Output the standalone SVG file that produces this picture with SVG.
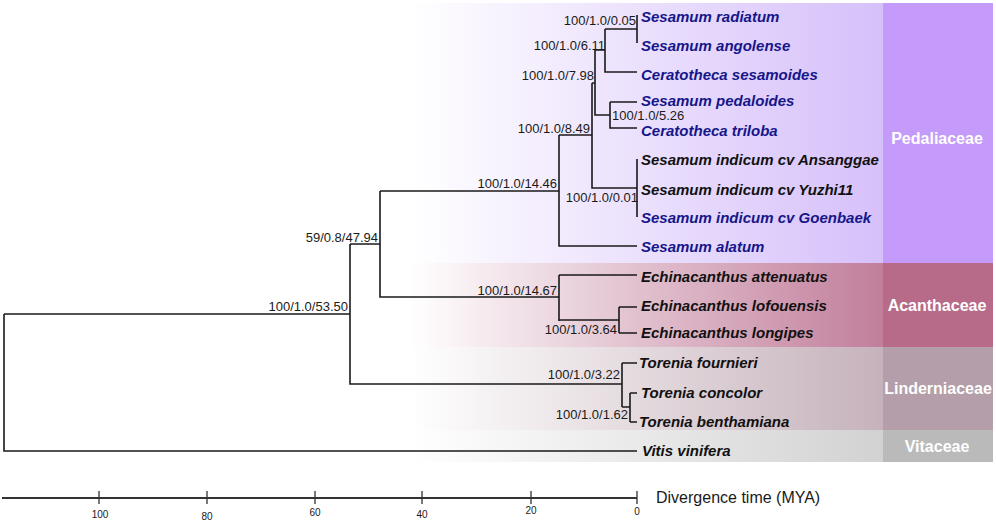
<svg xmlns="http://www.w3.org/2000/svg" width="996" height="524" viewBox="0 0 996 524">
<defs>
<linearGradient id="gP" x1="0" y1="0" x2="1" y2="0"><stop offset="0" stop-color="#ffffff"/><stop offset="1" stop-color="#d6c0fa"/></linearGradient>
<linearGradient id="gA" x1="0" y1="0" x2="1" y2="0"><stop offset="0" stop-color="#ffffff"/><stop offset="1" stop-color="#c27e9b"/></linearGradient>
<linearGradient id="gL" x1="0" y1="0" x2="1" y2="0"><stop offset="0" stop-color="#ffffff"/><stop offset="1" stop-color="#c6b2bb"/></linearGradient>
<linearGradient id="gV" x1="0" y1="0" x2="1" y2="0"><stop offset="0" stop-color="#ffffff"/><stop offset="1" stop-color="#d2d2d2"/></linearGradient>
</defs>
<style>
.br{fill:none;stroke:#1a1a1a;stroke-width:1.6}
.sup{font-family:"Liberation Sans",Arial,sans-serif;font-size:13px;fill:#1a1a1a}
.r{text-anchor:end}
.tx{font-family:"Liberation Sans",Arial,sans-serif;font-size:15px;font-weight:bold;font-style:italic}
.bl{fill:#16168a}
.bk{fill:#111111}
.fam{font-family:"Liberation Sans",Arial,sans-serif;font-size:16px;font-weight:bold;fill:#ffffff;text-anchor:middle}
.ax{font-family:"Liberation Sans",Arial,sans-serif;font-size:10px;fill:#1a1a1a;text-anchor:middle}
</style>
<rect width="996" height="524" fill="#ffffff"/>
<g id="bands">
<rect x="410" y="3" width="473" height="260" fill="url(#gP)"/>
<rect x="410" y="263" width="473" height="84" fill="url(#gA)"/>
<rect x="410" y="347" width="473" height="83" fill="url(#gL)"/>
<rect x="410" y="430" width="473" height="32" fill="url(#gV)"/>
</g>
<g id="family-Pedaliaceae"><rect x="883" y="3" width="110" height="260" fill="#c49bfa"/><text class="fam" x="937" y="144">Pedaliaceae</text></g>
<g id="family-Acanthaceae"><rect x="883" y="263" width="110" height="84" fill="#b86b89"/><text class="fam" x="937" y="311">Acanthaceae</text></g>
<g id="family-Linderniaceae"><rect x="883" y="347" width="110" height="83" fill="#b39ea9"/><text class="fam" x="938" y="394">Linderniaceae</text></g>
<g id="family-Vitaceae"><rect x="883" y="430" width="110" height="32" fill="#bababa"/><text class="fam" x="937" y="452">Vitaceae</text></g>
<g id="connectors">
<path class="br" d="M637,15V43 M605,29H637 M605,29V72H637 M610,102H637 M610,102V128H637 M595,50H605 M595,50V115H610 M592,83H595 M592,83V188H637 M637,159V217 M559,135H592 M559,135V246H637 M380,191H559 M380,191V297H559 M559,275H637 M559,275V321 M559,320H619 M619,307V333 M619,307H637 M619,333H637 M350,244H380 M350,244V384H622 M622,363V407 M622,363H637 M622,407H630 M630,393V422 M630,393H637 M630,422H637 M4,314H350 M4,314V451H637"/>
</g>
<g id="support">
<text class="sup r" x="636" y="25">100/1.0/0.05</text>
<text class="sup r" x="605" y="50">100/1.0/6.11</text>
<text class="sup r" x="594" y="80">100/1.0/7.98</text>
<text class="sup" x="612" y="120">100/1.0/5.26</text>
<text class="sup r" x="590" y="133">100/1.0/8.49</text>
<text class="sup r" x="557" y="188">100/1.0/14.46</text>
<text class="sup r" x="638" y="202">100/1.0/0.01</text>
<text class="sup r" x="378" y="242">59/0.8/47.94</text>
<text class="sup r" x="348" y="311">100/1.0/53.50</text>
<text class="sup r" x="557" y="295">100/1.0/14.67</text>
<text class="sup r" x="617" y="334">100/1.0/3.64</text>
<text class="sup r" x="620" y="379">100/1.0/3.22</text>
<text class="sup r" x="628" y="419">100/1.0/1.62</text>
</g>
<g id="leaf-radiatum"><text class="tx bl" x="641" y="22">Sesamum radiatum</text></g>
<g id="leaf-angolense"><text class="tx bl" x="641" y="51">Sesamum angolense</text></g>
<g id="leaf-sesamoides"><text class="tx bl" x="641" y="80">Ceratotheca sesamoides</text></g>
<g id="leaf-pedaloides"><text class="tx bl" x="641" y="106">Sesamum pedaloides</text></g>
<g id="leaf-triloba"><text class="tx bl" x="641" y="136">Ceratotheca triloba</text></g>
<g id="leaf-ansanggae"><text class="tx bk" x="641" y="165">Sesamum indicum cv Ansanggae</text></g>
<g id="leaf-yuzhi11"><text class="tx bk" x="641" y="195">Sesamum indicum cv Yuzhi11</text></g>
<g id="leaf-goenbaek"><text class="tx bl" x="641" y="223">Sesamum indicum cv Goenbaek</text></g>
<g id="leaf-alatum"><text class="tx bl" x="641" y="252">Sesamum alatum</text></g>
<g id="leaf-attenuatus"><text class="tx bk" x="641" y="282">Echinacanthus attenuatus</text></g>
<g id="leaf-lofouensis"><text class="tx bk" x="641" y="311">Echinacanthus lofouensis</text></g>
<g id="leaf-longipes"><text class="tx bk" x="641" y="338">Echinacanthus longipes</text></g>
<g id="leaf-fournieri"><text class="tx bk" x="639" y="368">Torenia fournieri</text></g>
<g id="leaf-concolor"><text class="tx bk" x="641" y="398">Torenia concolor</text></g>
<g id="leaf-benthamiana"><text class="tx bk" x="639" y="427">Torenia benthamiana</text></g>
<g id="leaf-vinifera"><text class="tx bk" x="642" y="456">Vitis vinifera</text></g>
<g id="axis">
<path d="M2,498H637" stroke="#333" stroke-width="2" fill="none"/>
<path d="M99,491V504 M207,491V504 M315,491V504 M422,491V504 M531,491V504 M637,491V504" stroke="#333" stroke-width="1.3" fill="none"/>
<text class="ax" x="100" y="518">100</text>
<text class="ax" x="207" y="520">80</text>
<text class="ax" x="315" y="516">60</text>
<text class="ax" x="422" y="518">40</text>
<text class="ax" x="531" y="514">20</text>
<text class="ax" x="637" y="515">0</text>
<text x="656" y="503" font-family="'Liberation Sans',Arial,sans-serif" font-size="16" fill="#1a1a1a">Divergence time (MYA)</text>
</g>
</svg>
